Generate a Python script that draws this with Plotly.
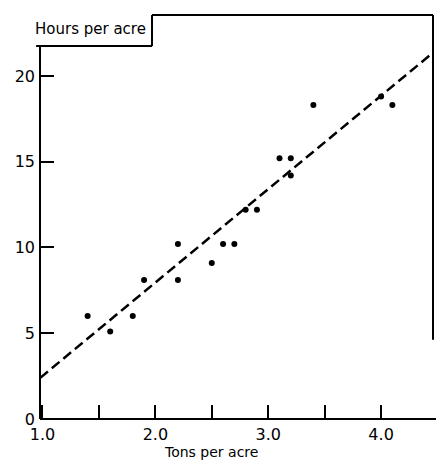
import plotly.graph_objects as go

# Data
tons = [1.4, 1.6, 1.8, 1.9, 2.2, 2.2, 2.5, 2.6, 2.7, 2.8, 2.9, 3.1, 3.2, 3.2, 3.4, 4.0, 4.1]
hours = [6.0, 5.1, 6.0, 8.1, 10.2, 8.1, 9.1, 10.2, 10.2, 12.2, 12.2, 15.2, 15.2, 14.2, 18.3, 18.8, 18.3]

fit_x = [0.98, 4.45]
fit_y = [2.4, 21.3]

x_tickvals = [1.0, 1.5, 2.0, 2.5, 3.0, 3.5, 4.0]
x_ticktext = ["1.0", "", "2.0", "", "3.0", "", "4.0"]
y_tickvals = [0, 5, 10, 15, 20]
y_ticktext = ["0", "5", "10", "15", "20"]

FONT = "DejaVu Sans, Liberation Sans, Arial, sans-serif"

fig = go.Figure()
fig.add_trace(go.Scatter(
    x=fit_x, y=fit_y, mode="lines",
    line=dict(color="black", width=2.5, dash="10px,5px"),
    hoverinfo="skip", showlegend=False))
fig.add_trace(go.Scatter(
    x=tons, y=hours, mode="markers",
    marker=dict(color="black", size=6),
    showlegend=False))

line = dict(color="black", width=2)
shapes = [
    # left axis up to notch
    dict(type="line", xref="paper", yref="paper", x0=0, x1=0, y0=0, y1=0.923, line=line),
    # notch bottom
    dict(type="line", xref="paper", yref="paper", x0=-0.01, x1=0.285, y0=0.923, y1=0.923, line=line),
    # notch vertical
    dict(type="line", xref="paper", yref="paper", x0=0.285, x1=0.285, y0=0.923, y1=1.0, line=line),
    # top frame
    dict(type="line", xref="paper", yref="paper", x0=0.285, x1=1.0, y0=1.0, y1=1.0, line=line),
    # right frame (partial)
    dict(type="line", xref="paper", yref="paper", x0=1.0, x1=1.0, y0=0.196, y1=1.0, line=line),
    # bottom axis
    dict(type="line", xref="paper", yref="paper", x0=0, x1=1.01, y0=0, y1=0, line=line),
]

fig.update_layout(
    width=436, height=461,
    margin=dict(l=40, r=3, t=15, b=42, autoexpand=False),
    paper_bgcolor="white", plot_bgcolor="white",
    font=dict(family=FONT, color="black"),
    shapes=shapes,
    showlegend=False,
    xaxis=dict(
        range=[0.978, 4.46], showgrid=False, zeroline=False, showline=False,
        automargin=False,
        tickmode="array", tickvals=x_tickvals, ticktext=x_ticktext,
        ticks="inside", ticklen=14, tickwidth=2, tickcolor="black",
        ticklabelstandoff=4,
        tickfont=dict(size=16, family=FONT, color="black"),
    ),
    yaxis=dict(
        range=[0, 23.55], showgrid=False, zeroline=False, showline=False,
        automargin=False,
        tickmode="array", tickvals=y_tickvals, ticktext=y_ticktext,
        ticks="inside", ticklen=14, tickwidth=2, tickcolor="black",
        ticklabelstandoff=4,
        tickfont=dict(size=16, family=FONT, color="black"),
    ),
    annotations=[
        dict(text="Hours per acre", xref="paper", yref="paper", x=-0.018, y=0.965,
             xanchor="left", yanchor="middle", showarrow=False,
             font=dict(size=15, family=FONT, color="black")),
        dict(text="Tons per acre", xref="paper", yref="paper", x=0.435, y=-0.082,
             xanchor="center", yanchor="middle", showarrow=False,
             font=dict(size=14, family=FONT, color="black")),
    ],
)

fig.write_html("out.html", config={"displayModeBar": False},
               post_script="document.body.style.margin='0';")
